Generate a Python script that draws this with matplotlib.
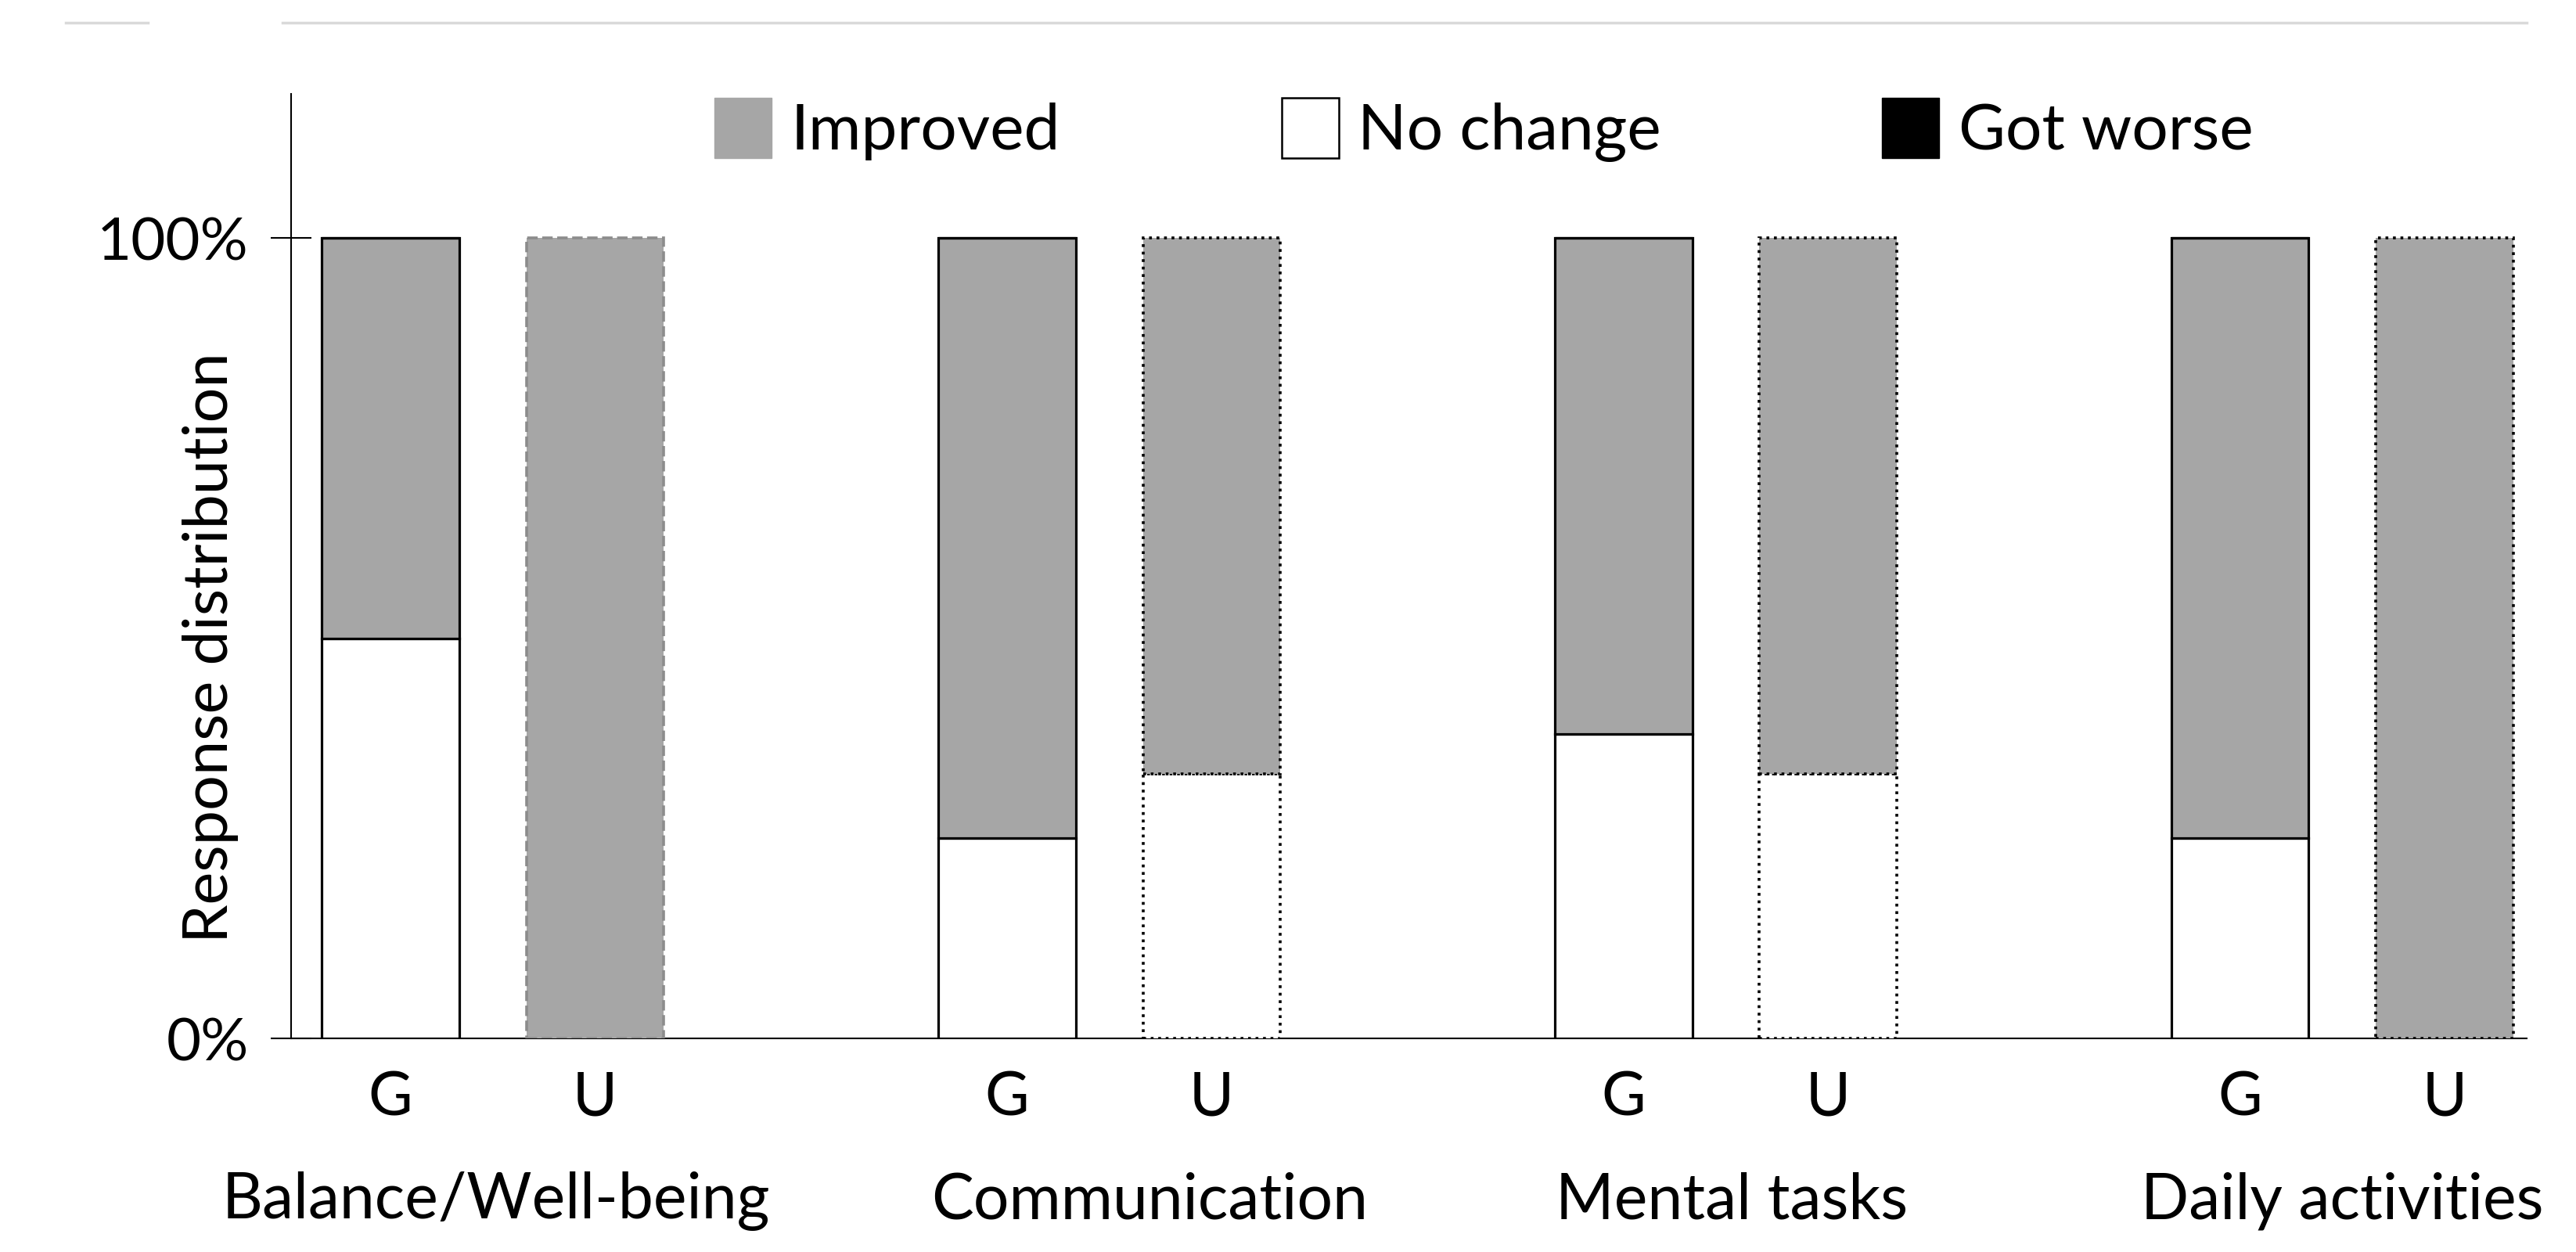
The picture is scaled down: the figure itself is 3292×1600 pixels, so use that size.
import matplotlib.pyplot as plt
import numpy as np
from matplotlib.patches import Patch
from matplotlib.lines import Line2D

plt.rcParams['font.family'] = ['Lato', 'DejaVu Sans']

# data (percent of respondents)
categories = ['Balance/Well-being', 'Communication', 'Mental tasks', 'Daily activities']
series = ['Improved', 'No change', 'Got worse']
improved_G = [50, 75, 62, 75]
no_change_G = [50, 25, 38, 25]
worse_G = [0, 0, 0, 0]
improved_U = [100, 67, 67, 100]
no_change_U = [0, 33, 33, 0]
worse_U = [0, 0, 0, 0]

GRAY = '#a6a6a6'

fig = plt.figure(figsize=(32.92, 16), dpi=100)
ax = fig.add_axes([372 / 3292, 1 - 1327 / 1600, (3229 - 372) / 3292, (1327 - 120) / 1600])

idx = np.arange(len(categories))
off = 0.166
w = 0.223
xg = idx - off
xu = idx + off

# G bars: solid black outline
ax.bar(xg, no_change_G, w, color='white', edgecolor='black', lw=2.3, zorder=3)
ax.bar(xg, improved_G, w, bottom=no_change_G, color=GRAY, edgecolor='black', lw=2.3, zorder=3)
ax.bar(xg, worse_G, w, bottom=np.add(no_change_G, improved_G), color='black',
       edgecolor='black', lw=2.3, zorder=3)

# U bars: dotted outline (first one drawn in gray)
u_edges = ['#8c8c8c', 'black', 'black', 'black']
u_styles = ['--', ':', ':', ':']
for i in idx:
    ax.bar(xu[i], no_change_U[i], w, color='white', edgecolor=u_edges[i], lw=2.6,
           ls=u_styles[i], zorder=3)
    ax.bar(xu[i], improved_U[i], w, bottom=no_change_U[i], color=GRAY,
           edgecolor=u_edges[i], lw=2.6, ls=u_styles[i], zorder=3)
    if worse_U[i] > 0:
        ax.bar(xu[i], worse_U[i], w, bottom=no_change_U[i] + improved_U[i], color='black',
               edgecolor=u_edges[i], lw=2.6, ls=u_styles[i], zorder=3)

ax.set_xlim(-0.327, 3.299)
ax.set_ylim(0, 118)

ax.spines['top'].set_visible(False)
ax.spines['right'].set_visible(False)
ax.spines['left'].set_linewidth(1.5)
ax.spines['bottom'].set_linewidth(1.5)

ax.set_yticks([0, 100])
ax.set_yticklabels(['0%', '100%'])
ax.tick_params(axis='y', direction='inout', length=38, width=1.5, labelsize=55, pad=20)

ticks = np.concatenate([xg, xu])
ax.set_xticks(ticks)
ax.set_xticklabels(['G'] * 4 + ['U'] * 4)
ax.tick_params(axis='x', length=0, labelsize=56, pad=30)

label_shift = [0.005, 0.065, 0.01, 0.0]
for i, c in enumerate(categories):
    ax.text(i + label_shift[i], -0.172, c, transform=ax.get_xaxis_transform(),
            ha='center', va='center', fontsize=58)

ax.set_ylabel('Response distribution', fontsize=57, va='center')
ax.yaxis.set_label_coords(-0.036, 0.414)

handles = [Patch(facecolor=GRAY, edgecolor=GRAY),
           Patch(facecolor='white', edgecolor='black', lw=1.8),
           Patch(facecolor='black', edgecolor='black')]
fig.legend(handles, series, loc='center left', bbox_to_anchor=(913 / 3292, 1 - 166 / 1600),
           ncol=3, frameon=False, fontsize=59, handlelength=0.89, handleheight=1.07,
           handletextpad=0.3, columnspacing=3.45, borderpad=0, borderaxespad=0)

# thin gray rule along the top
fig.add_artist(Line2D([84 / 3292, 189 / 3292], [1 - 29 / 1600] * 2, color='#d9d9d9', lw=2.5))
fig.add_artist(Line2D([361 / 3292, 3229 / 3292], [1 - 29 / 1600] * 2, color='#d9d9d9', lw=2.5))

fig.savefig('out.png', dpi=100)
